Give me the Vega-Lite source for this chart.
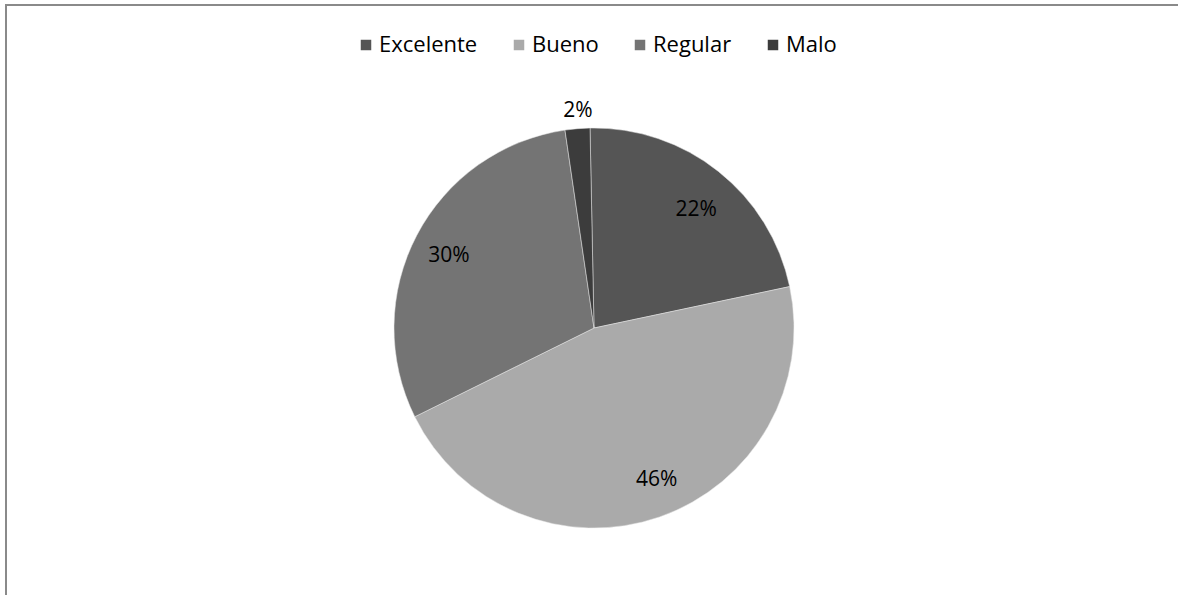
{
  "$schema": "https://vega.github.io/schema/vega-lite/v6.json",
  "autosize": {"type": "none"},
  "width": 1176,
  "height": 646,
  "padding": {"left": 6, "top": 5, "right": 30, "bottom": -56},
  "background": "white",
  "view": {"stroke": null},
  "config": {
    "font": "Open Sans"
  },
  "data": {
    "values": [
      {"categoria": "Excelente", "proporcion": 0.22},
      {"categoria": "Bueno", "proporcion": 0.46},
      {"categoria": "Regular", "proporcion": 0.30},
      {"categoria": "Malo", "proporcion": 0.02}
    ]
  },
  "transform": [{"window": [{"op": "row_number", "as": "orden"}]}],
  "layer": [
    {
      "mark": {"type": "rect", "fill": null, "stroke": "#8a8a8a", "strokeWidth": 2},
      "encoding": {}
    },
    {
      "encoding": {
        "theta": {"field": "proporcion", "type": "quantitative", "stack": true, "scale": {"range": [-0.02, 6.2632]}},
        "order": {"field": "orden", "type": "quantitative"},
        "color": {
          "field": "categoria",
          "type": "nominal",
          "sort": ["Excelente", "Bueno", "Regular", "Malo"],
          "scale": {"domain": ["Excelente", "Bueno", "Regular", "Malo"], "range": ["#555555", "#aaaaaa", "#747474", "#3c3c3c"]},
          "legend": {
            "title": null,
            "orient": "none",
            "legendX": 349,
            "legendY": 29,
            "direction": "horizontal",
            "columns": 4,
            "symbolType": "square",
            "symbolSize": 110,
            "symbolStrokeWidth": 0,
            "labelFontSize": 22,
            "labelFont": "Open Sans",
            "labelColor": "#000000",
            "labelOffset": 2,
            "columnPadding": 30
          }
        }
      },
      "layer": [
        {"mark": {"type": "arc", "outerRadius": 200, "stroke": "#e8e8e8", "strokeWidth": 0.5}},
        {
          "mark": {
            "type": "text",
            "fontSize": 21,
            "font": "Open Sans",
            "radius": {"expr": "datum.categoria == 'Malo' ? 218 : datum.categoria == 'Excelente' ? 156 : datum.categoria == 'Bueno' ? 164 : 162"},
            "thetaOffset": {"expr": "datum.categoria == 'Excelente' ? 0.044 : datum.categoria == 'Bueno' ? -0.058 : datum.categoria == 'Regular' ? -0.023 : 0.009"}
          },
          "encoding": {
            "text": {"field": "proporcion", "type": "quantitative", "format": ".0%"},
            "color": {"value": "#000000"}
          }
        }
      ]
    }
  ]
}
